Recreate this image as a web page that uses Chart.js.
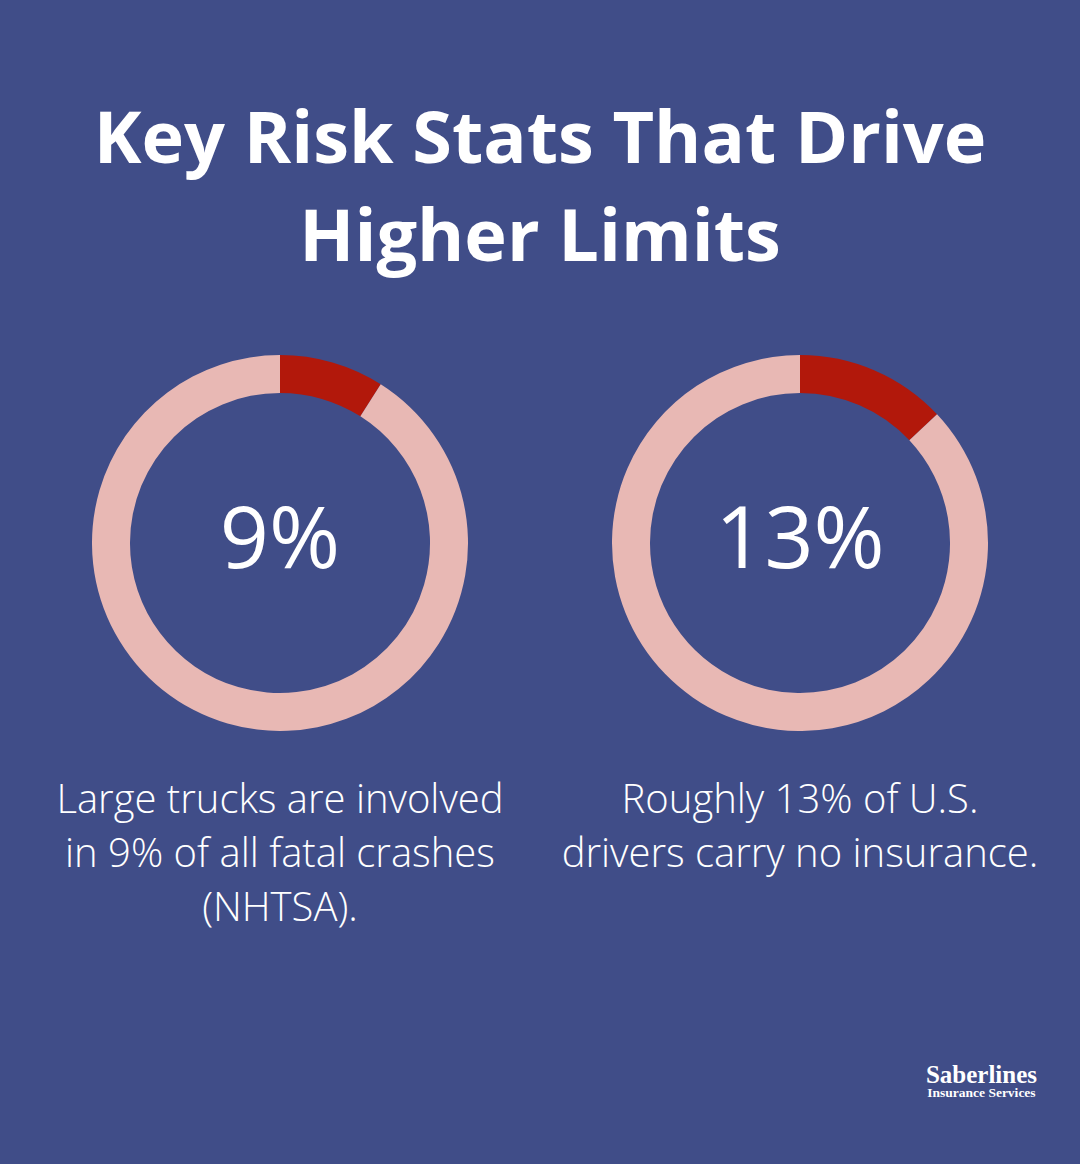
<!DOCTYPE html>
<html>
<head>
<meta charset="utf-8">
<script src="https://cdn.jsdelivr.net/npm/chart.js@4"></script>
<style>
  body { margin: 0; background: #404d88; width: 1080px; height: 1164px; overflow: hidden; font-family: "Open Sans", sans-serif; color: #fff; }
  #title { position: absolute; top: 86px; left: 0; width: 1080px; text-align: center; font-weight: 700; font-size: 72px; line-height: 98px; }
  .donut { position: absolute; top: 355px; width: 376px; height: 376px; }
  .center { position: absolute; top: 355px; width: 376px; height: 376px; line-height: 376px; text-align: center; font-size: 86px; font-weight: 500; margin-top: -8px; }
  .caption { position: absolute; top: 771px; width: 520px; text-align: center; font-size: 40px; font-weight: 300; line-height: 54px; white-space: nowrap; }
  #logo { position: absolute; right: 43px; top: 1064px; text-align: center; font-family: "Liberation Serif", "DejaVu Serif", serif; }
  #logo .a { font-size: 25px; font-weight: 700; line-height: 22px; }
  #logo .b { font-size: 13.5px; font-weight: 700; line-height: 14px; }
</style>
</head>
<body>
<div id="title">Key Risk Stats That Drive<br>Higher Limits</div>
<div id="stats"></div>
<div id="logo"><div class="a">Saberlines</div><div class="b">Insurance Services</div></div>
<script>
const statValues = [9, 13];
const statLabels = ['9%', '13%'];
const statCaptions = [
  ['Large trucks are involved', 'in 9% of all fatal crashes', '(NHTSA).'],
  ['Roughly 13% of U.S.', 'drivers carry no insurance.']
];
const statLefts = [92, 612];
const captionLefts = [20, 540];

const stats = document.getElementById('stats');
statValues.forEach((v, i) => {
  const wrap = document.createElement('div');
  wrap.className = 'donut';
  wrap.style.left = statLefts[i] + 'px';
  const cv = document.createElement('canvas');
  wrap.appendChild(cv);
  stats.appendChild(wrap);

  const c = document.createElement('div');
  c.className = 'center';
  c.style.left = statLefts[i] + 'px';
  c.textContent = statLabels[i];
  stats.appendChild(c);

  const cap = document.createElement('div');
  cap.className = 'caption';
  cap.style.left = captionLefts[i] + 'px';
  statCaptions[i].forEach(line => {
    const d = document.createElement('div');
    d.textContent = line;
    cap.appendChild(d);
  });
  stats.appendChild(cap);

  new Chart(cv, {
    type: 'doughnut',
    data: {
      labels: ['Share', 'Rest'],
      datasets: [{
        data: [v, 100 - v],
        backgroundColor: ['#b2180b', '#e8b8b4'],
        borderWidth: 0
      }]
    },
    options: {
      responsive: true,
      maintainAspectRatio: false,
      animation: false,
      cutout: '79.8%',
      plugins: { legend: { display: false }, tooltip: { enabled: false } }
    }
  });
});
</script>
</body>
</html>
